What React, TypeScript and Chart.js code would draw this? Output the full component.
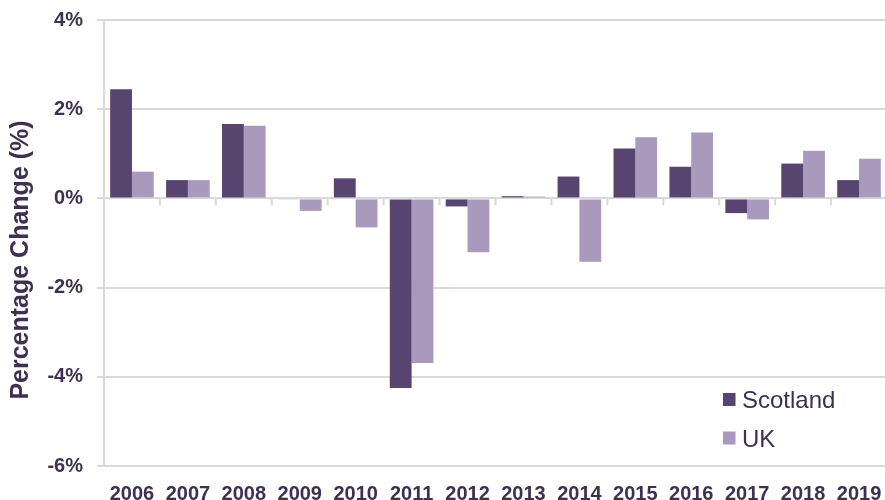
import React, { useEffect, useRef } from "react";
import { Chart, registerables } from "chart.js";

Chart.register(...registerables);

const years = ["2006", "2007", "2008", "2009", "2010", "2011", "2012", "2013", "2014", "2015", "2016", "2017", "2018", "2019"];
const scotland = [2.45, 0.41, 1.67, -0.02, 0.45, -4.25, -0.18, 0.05, 0.49, 1.12, 0.71, -0.33, 0.78, 0.41];
const uk = [0.6, 0.41, 1.63, -0.28, -0.65, -3.69, -1.21, 0.04, -1.42, 1.37, 1.48, -0.47, 1.07, 0.89];
const seriesNames = ["Scotland", "UK"];
const seriesColors = ["#574570", "#a99abd"];
const yTitle = "Percentage Change (%)";
const textColor = "#3d3050";
const gridColor = "#d9d9d9";
const fontFamily = "'Liberation Sans', Arial, sans-serif";

const extrasPlugin = {
  id: "extras",
  afterDraw(chart: any) {
    const { ctx, chartArea, scales } = chart;
    const x = scales.x;
    const y = scales.y;
    const y0 = y.getPixelForValue(0);
    ctx.save();
    // category boundary tick marks on the zero line
    ctx.strokeStyle = gridColor;
    ctx.lineWidth = 2;
    for (let i = 1; i < years.length; i++) {
      const bx = (x.getPixelForTick(i - 1) + x.getPixelForTick(i)) / 2;
      ctx.beginPath();
      ctx.moveTo(bx, y0);
      ctx.lineTo(bx, y0 + 7);
      ctx.stroke();
    }
    // y title
    ctx.fillStyle = textColor;
    ctx.font = `bold 25px ${fontFamily}`;
    ctx.textAlign = "center";
    ctx.textBaseline = "alphabetic";
    ctx.translate(28, (chartArea.top + chartArea.bottom) / 2 + 17);
    ctx.rotate(-Math.PI / 2);
    ctx.fillText(yTitle, 0, 0);
    ctx.restore();

    // legend
    ctx.save();
    ctx.font = `24px ${fontFamily}`;
    ctx.textAlign = "left";
    ctx.textBaseline = "alphabetic";
    const lx = chartArea.right - 164;
    const ly = chartArea.bottom - 58;
    chart.data.datasets.forEach((ds: any, i: number) => {
      const base = ly + i * 38.5;
      ctx.fillStyle = ds.backgroundColor;
      ctx.fillRect(lx, base - 15, 12.5, 13);
      ctx.fillStyle = textColor;
      ctx.fillText(ds.label, lx + 19, base);
    });
    ctx.restore();
  },
};

export default function App() {
  const ref = useRef<HTMLCanvasElement | null>(null);
  useEffect(() => {
    if (!ref.current) return;
    const chart = new Chart(ref.current, {
      type: "bar",
      data: {
        labels: years,
        datasets: [
          { label: seriesNames[0], data: scotland, backgroundColor: seriesColors[0], borderWidth: 0 },
          { label: seriesNames[1], data: uk, backgroundColor: seriesColors[1], borderWidth: 0 },
        ],
      },
      options: {
        responsive: false,
        animation: false,
        devicePixelRatio: 1,
        layout: { padding: { top: 20, right: 0, left: 0, bottom: 0 } },
        datasets: { bar: { categoryPercentage: 0.78, barPercentage: 1 } },
        plugins: { legend: { display: false }, tooltip: { enabled: false }, title: { display: false } },
        scales: {
          x: {
            grid: { display: false, drawTicks: false },
            border: { display: false },
            ticks: {
              color: textColor,
              font: { family: fontFamily, size: 20, weight: "bold" },
              padding: 16,
              maxRotation: 0,
              autoSkip: false,
            },
            afterFit(scale: any) {
              scale.height = 34;
              scale.paddingLeft = 0;
              scale.paddingRight = 0;
            },
          },
          y: {
            min: -6,
            max: 4,
            grid: { color: gridColor, lineWidth: 2, tickLength: 7, drawTicks: true },
            border: { display: true, color: gridColor, width: 2 },
            ticks: {
              stepSize: 2,
              color: textColor,
              font: { family: fontFamily, size: 20, weight: "bold" },
              padding: 14,
              callback: (v: any) => `${v}%`,
            },
            afterFit(scale: any) {
              scale.width = 104;
              scale.paddingTop = 0;
              scale.paddingBottom = 0;
            },
          },
        },
      },
      plugins: [extrasPlugin],
    });
    return () => chart.destroy();
  }, []);
  return (
    <div style={{ position: "absolute", left: 0, top: 0, width: 885, height: 500, overflow: "hidden", background: "#fff" }}>
      <canvas ref={ref} width={887} height={500} style={{ display: "block" }} />
    </div>
  );
}
